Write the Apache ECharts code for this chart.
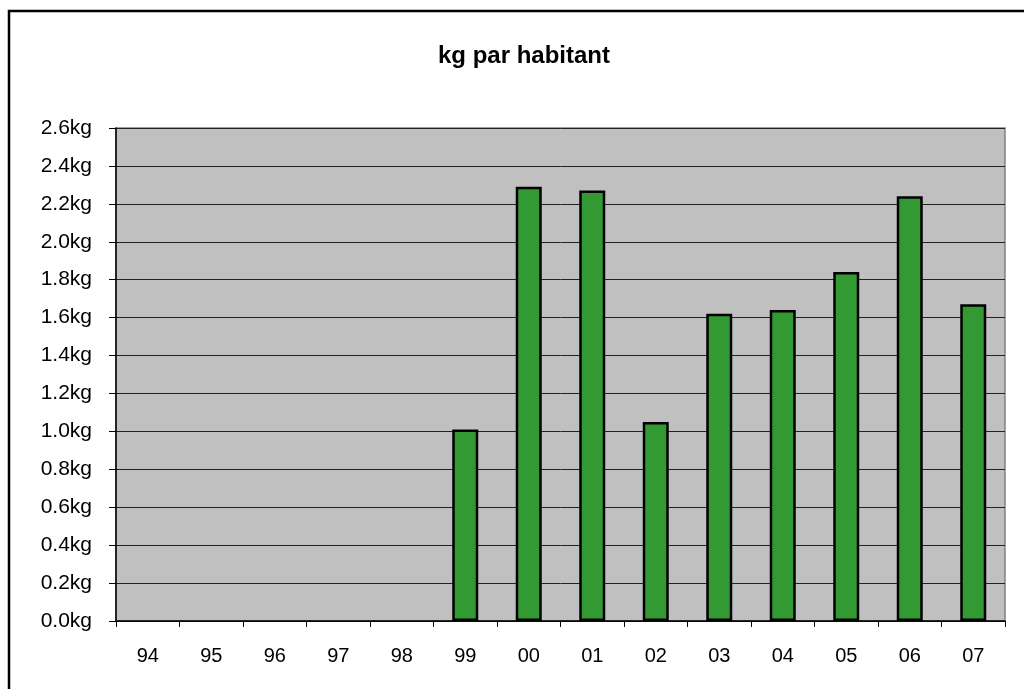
<!DOCTYPE html>
<html>
<head>
<meta charset="utf-8">
<script src="https://cdn.jsdelivr.net/npm/echarts@6/dist/echarts.min.js"></script>
<style>
  html, body { margin: 0; padding: 0; background: #fff; }
  #main { width: 1024px; height: 689px; }
</style>
</head>
<body>
<div id="main"></div>
<script>
// annees (2 chiffres)
var years = ['94', '95', '96', '97', '98', '99', '00', '01', '02', '03', '04', '05', '06', '07'];
// kg par habitant, vide avant 99
var kgValues = [null, null, null, null, null, 1.01, 2.29, 2.27, 1.05, 1.62, 1.64, 1.84, 2.24, 1.67];
var yTicks = { min: 0, max: 2.6, step: 0.2 };

var chart = echarts.init(document.getElementById('main'));
var font = 'Liberation Sans, Arial, sans-serif';

var option = {
  animation: false,
  title: {
    text: 'kg par habitant',
    left: 433,
    top: 39,
    textStyle: { fontFamily: font, fontSize: 24, fontWeight: 'bold', color: '#000' }
  },
  graphic: [{
    type: 'rect',
    shape: { x: 9, y: 11, width: 1030, height: 700 },
    style: { fill: 'none', stroke: '#000', lineWidth: 2.5 }
  }],
  grid: {
    left: 116, right: 19, top: 128, bottom: 68,
    show: true,
    backgroundColor: '#c0c0c0',
    borderColor: '#808080',
    borderWidth: 1.5
  },
  xAxis: {
    type: 'category',
    data: years,
    axisLine: { lineStyle: { color: '#000', width: 1.5 } },
    axisTick: { show: true, length: 6, lineStyle: { color: '#000' } },
    axisLabel: { fontFamily: font, fontSize: 20, color: '#000', margin: 25 },
    splitLine: { show: false }
  },
  yAxis: {
    type: 'value',
    min: yTicks.min,
    max: yTicks.max,
    interval: yTicks.step,
    axisLine: { show: true, lineStyle: { color: '#000', width: 1.5 } },
    axisTick: { show: true, length: 7, lineStyle: { color: '#000' } },
    axisLabel: {
      fontFamily: font, fontSize: 21, color: '#000', margin: 24,
      formatter: function (v) { return v.toFixed(1) + 'kg'; }
    },
    splitLine: { show: true, lineStyle: { color: '#222', width: 1 } }
  },
  series: [{
    type: 'bar',
    data: kgValues,
    barWidth: 26,
    itemStyle: { color: '#339933', borderColor: '#000', borderWidth: 2.5 }
  }]
};
chart.setOption(option);
</script>
</body>
</html>
